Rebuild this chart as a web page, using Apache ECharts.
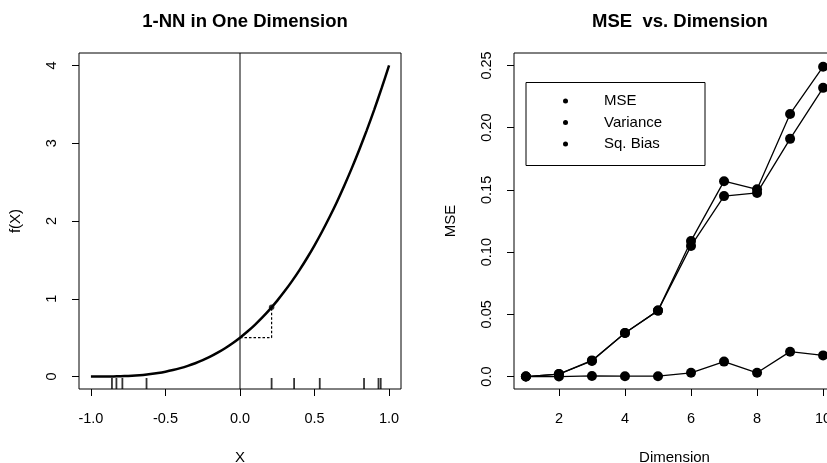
<!DOCTYPE html>
<html><head><meta charset="utf-8">
<script src="https://cdn.jsdelivr.net/npm/echarts@6/dist/echarts.min.js"></script>
<style>html,body{margin:0;padding:0;background:#fff}#c{width:827px;height:463px}</style>
</head><body><div id="c"></div>
<script>
const FONT = "'Liberation Sans', Arial, Helvetica, sans-serif";

// Left panel: f(X) curve
const curveX = [-1.0,-0.95,-0.9,-0.85,-0.8,-0.75,-0.7,-0.65,-0.6,-0.55,-0.5,-0.45,-0.4,-0.35,-0.3,-0.25,-0.2,-0.15,-0.1,-0.05,0.0,0.05,0.1,0.15,0.2,0.25,0.3,0.35,0.4,0.45,0.5,0.55,0.6,0.65,0.7,0.75,0.8,0.85,0.9,0.95,1.0];
const curveY = [0.0,0.0001,0.0005,0.0017,0.004,0.0078,0.0135,0.0214,0.032,0.0456,0.0625,0.0832,0.108,0.1373,0.1715,0.2109,0.256,0.3071,0.3645,0.4287,0.5,0.5788,0.6655,0.7604,0.864,0.9766,1.0985,1.2302,1.372,1.5243,1.6875,1.862,2.048,2.2452,2.4565,2.6797,2.916,3.1658,3.4295,3.7074,4.0];
const rugX = [-0.859,-0.829,-0.789,-0.627,0.212,0.363,0.535,0.832,0.929,0.944];
const targetX = 0.0, targetY = 0.5;
const nnX = 0.212, nnY = 0.89;
const leftXTicks = [-1.0,-0.5,0.0,0.5,1.0];
const leftYTicks = [0,1,2,3,4];

// Right panel: MSE vs dimension
const dims = [1,2,3,4,5,6,7,8,9,10];
const mse = [0.0,0.002,0.013,0.035,0.053,0.109,0.157,0.1505,0.211,0.249];
const variance = [0.0,0.002,0.0125,0.035,0.053,0.105,0.145,0.1476,0.191,0.232];
const sqBias = [0.0,0.0,0.0005,0.0003,0.0003,0.003,0.012,0.003,0.020,0.017];
const rightXTicks = [2,4,6,8,10];
const rightYTicks = [0,0.05,0.10,0.15,0.20,0.25];

const zip = (a,b) => a.map((v,i)=>[v,b[i]]);
const axisCommon = (ticks, fmt) => ({
  type:'value',
  axisLine:{show:false, onZero:false},
  splitLine:{show:false},
  axisTick:{show:true, customValues:ticks, length:7, inside:false, lineStyle:{color:'#000', width:1}},
  axisLabel:{customValues:ticks, formatter:fmt, color:'#000', fontSize:14.5, fontFamily:FONT},
  nameTextStyle:{color:'#000', fontSize:15, fontFamily:FONT}
});

const chart = echarts.init(document.getElementById('c'), null, {renderer:'canvas'});
const lx = axisCommon(leftXTicks, v=>v.toFixed(1));
Object.assign(lx, {gridIndex:0, min:-1.08, max:1.08, name:'X', nameLocation:'middle', nameGap:61});
lx.axisLabel.margin = 22;
const ly = axisCommon(leftYTicks, v=>String(v));
Object.assign(ly, {gridIndex:0, min:-0.16, max:4.16, name:'f(X)', nameLocation:'middle', nameGap:56});
ly.axisLabel.rotate = 90; ly.axisLabel.margin = 20;
const rx = axisCommon(rightXTicks, v=>String(v));
Object.assign(rx, {gridIndex:1, min:0.64, max:10.36, name:'Dimension', nameLocation:'middle', nameGap:61});
rx.axisLabel.margin = 22;
const ry = axisCommon(rightYTicks, v=> v===0 ? '0.0' : v.toFixed(2));
Object.assign(ry, {gridIndex:1, min:-0.01, max:0.26, name:'MSE', nameLocation:'middle', nameGap:56});
ry.axisLabel.rotate = 90; ry.axisLabel.margin = 20;

const black = '#000';
const option = {
  backgroundColor:'#fff',
  animation:false,
  textStyle:{fontFamily:FONT},
  title:[
    {text:'1-NN in One Dimension', left:240, top:7, textAlign:'center', textStyle:{fontSize:18.5, fontWeight:'bold', color:black, fontFamily:FONT}},
    {text:'MSE  vs. Dimension', left:675, top:7, textAlign:'center', textStyle:{fontSize:18.5, fontWeight:'bold', color:black, fontFamily:FONT}}
  ],
  grid:[
    {left:79, top:53, width:322, height:336, show:true, borderColor:black, borderWidth:1, backgroundColor:'transparent', outerBoundsMode:'none', containLabel:false},
    {left:514, top:53, width:321, height:336, show:true, borderColor:black, borderWidth:1, backgroundColor:'transparent', outerBoundsMode:'none', containLabel:false}
  ],
  xAxis:[lx, rx],
  yAxis:[ly, ry],
  legend:{
    data:['MSE','Variance','Sq. Bias'], orient:'vertical', left:563, top:93, padding:0,
    icon:'circle', itemWidth:5, itemHeight:5, itemGap:5.5, selectedMode:false,
    textStyle:{color:black, fontSize:15, fontFamily:FONT, lineHeight:16, padding:[0,0,0,31]}
  },
  graphic:[
    {type:'rect', shape:{x:526, y:82.5, width:179, height:83}, style:{fill:'none', stroke:black, lineWidth:1}, silent:true}
  ],
  series:[
    {type:'line', xAxisIndex:0, yAxisIndex:0, data:[[targetX,-0.16],[targetX,4.16]], showSymbol:false, lineStyle:{color:black, width:1}, silent:true},
    {type:'line', xAxisIndex:0, yAxisIndex:0, data:[[targetX,targetY],[nnX,targetY],[nnX,nnY]], showSymbol:false, lineStyle:{color:black, width:1.2, type:[2.5,2]}, silent:true},
    {type:'line', xAxisIndex:0, yAxisIndex:0, data:zip(curveX,curveY), showSymbol:false, smooth:0.3, lineStyle:{color:black, width:2.5}, silent:true},
    {type:'scatter', xAxisIndex:0, yAxisIndex:0, data:[[nnX,nnY]], symbol:'circle', symbolSize:5.5, itemStyle:{color:black}, silent:true},
    {type:'scatter', xAxisIndex:0, yAxisIndex:0, data:rugX.map(x=>[x,-0.16]), symbol:'rect', symbolSize:[1.8,11], symbolOffset:[0,-5.5], clip:false, itemStyle:{color:black}, silent:true},
    {name:'MSE', type:'line', xAxisIndex:1, yAxisIndex:1, data:zip(dims,mse), symbol:'circle', symbolSize:10, showSymbol:true, itemStyle:{color:black}, lineStyle:{color:black, width:1.3}, silent:true},
    {name:'Variance', type:'line', xAxisIndex:1, yAxisIndex:1, data:zip(dims,variance), symbol:'circle', symbolSize:10, showSymbol:true, itemStyle:{color:black}, lineStyle:{color:black, width:1.3}, silent:true},
    {name:'Sq. Bias', type:'line', xAxisIndex:1, yAxisIndex:1, data:zip(dims,sqBias), symbol:'circle', symbolSize:10, showSymbol:true, itemStyle:{color:black}, lineStyle:{color:black, width:1.3}, silent:true}
  ]
};
chart.setOption(option);
</script></body></html>
